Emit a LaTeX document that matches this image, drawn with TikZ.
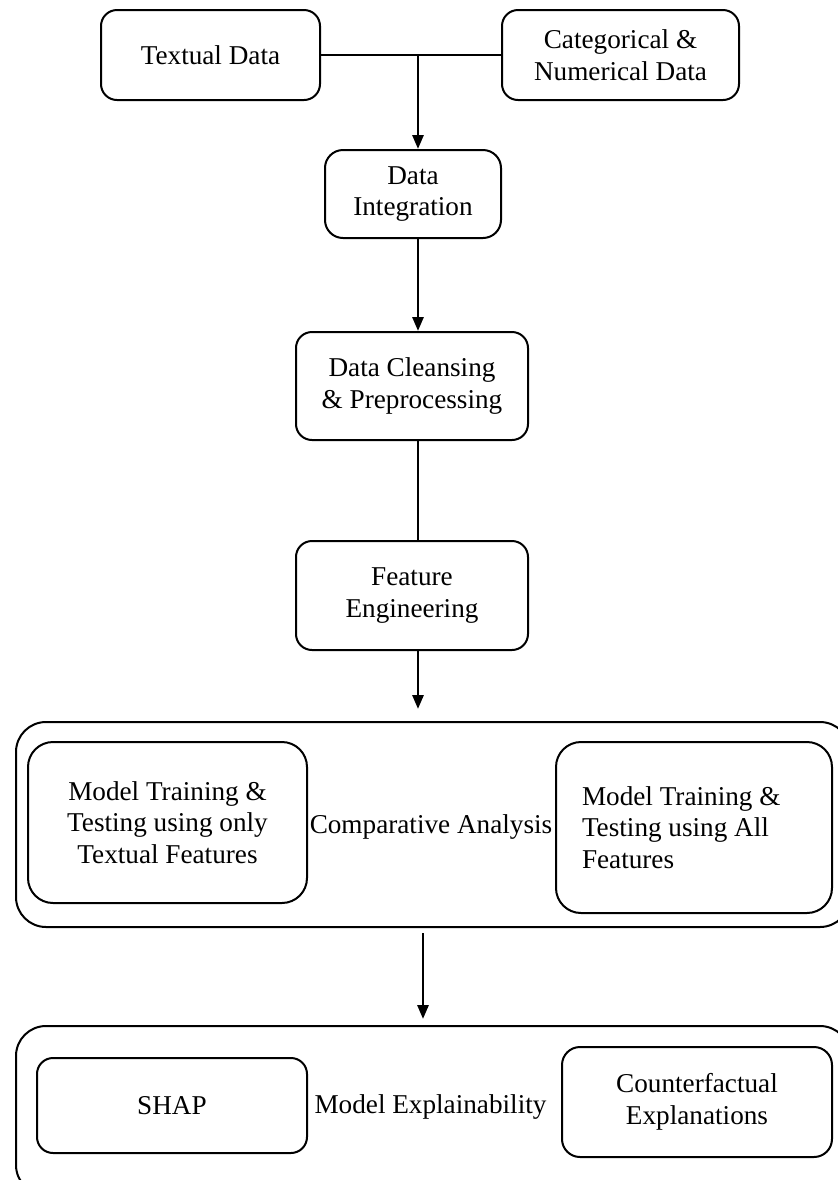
\documentclass[tikz,border=0pt]{standalone}
\usepackage{fontspec}
\setmainfont{Liberation Serif}
\usetikzlibrary{arrows.meta}

\begin{document}
\begin{tikzpicture}[x=0.5pt, y=-0.5pt,
  txtfont/.style={font=\fontsize{13.6}{15.8}\selectfont},
  box/.style={draw, line width=1pt, rounded corners=8pt, align=center, inner sep=0pt, txtfont},
  widebox/.style={box, rounded corners=12.5pt},
  bigbox/.style={draw, line width=1pt, rounded corners=15pt, inner sep=0pt},
  link/.style={line width=1.4pt},
  flow/.style={link, -{Triangle[width=5.5pt,length=7pt]}}]

\useasboundingbox (0,0) rectangle (838,1180);

% outer boxes
{
\node[bigbox, minimum width=417pt, minimum height=102.5pt] (cmp) at (433,824.5) {};
\node[bigbox, minimum width=417pt, minimum height=84.5pt] (expl) at (433,1110.5) {};
}

% nodes
{
\node[box, minimum width=109.5pt, minimum height=45pt] (txt) at (210.5,55) {Textual Data};
\node[box, minimum width=118.5pt, minimum height=45pt] (cat) at (620.5,55) {Categorical \&\\Numerical Data};

\node[box, rounded corners=9pt, minimum width=88pt, minimum height=44pt] (integ) at (413,194) {Data\\Integration};
\node[box, minimum width=116pt, minimum height=54pt] (clean) at (412,386) {Data Cleansing\\\& Preprocessing};
\node[box, minimum width=116pt, minimum height=54.5pt] (feat) at (412,595.5) {Feature\\Engineering};

\node[widebox, minimum width=139.5pt, minimum height=80.5pt] (textonly) at (167.5,822.5) {Model Training \&\\Testing using only\\Textual Features};
\node[widebox, align=flush left, text width=112pt, inner xsep=13pt, minimum height=85.5pt] (allfeat) at (694,827.5) {Model Training \&\\Testing using All\\Features};
\node[txtfont] (cmplabel) at (431,827) {Comparative Analysis};

\node[box, minimum width=135pt, minimum height=47.5pt] (shap) at (172,1105.5) {SHAP};
\node[box, rounded corners=9pt, minimum width=135pt, minimum height=55pt] (cf) at (697,1102) {Counterfactual\\Explanations};
\node[txtfont] (expllabel) at (430.5,1107) {Model Explainability};
}

% connectors
{
\draw[link] (txt.east) -- (cat.west);
\draw[flow] ([xshift=2.5pt]integ.north |- txt.east) -- ([xshift=2.5pt]integ.north);
\draw[flow] ([xshift=2.5pt]integ.south) -- ([xshift=2.5pt]integ.south |- clean.north);
\draw[link] ([xshift=3pt]clean.south) -- ([xshift=3pt]feat.north);
\draw[flow, shorten >=6pt] ([xshift=3pt]feat.south) -- ([xshift=3pt]feat.south |- cmp.north);
\draw[flow, shorten <=2.5pt, shorten >=3pt] ([xshift=-5pt]cmp.south) -- ([xshift=-5pt]expl.north);
}

\end{tikzpicture}
\end{document}
